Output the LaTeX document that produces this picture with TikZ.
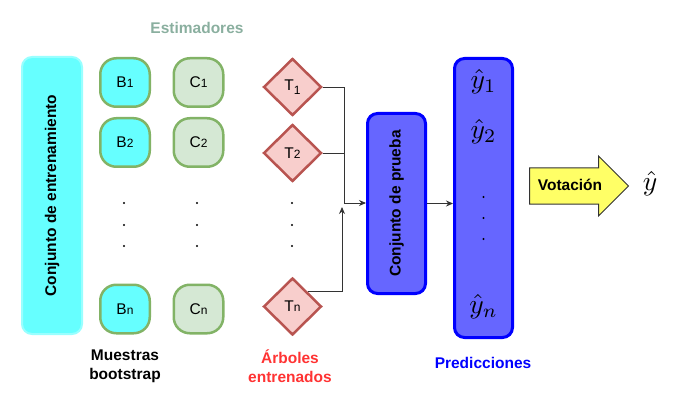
\documentclass[tikz,border=0pt]{standalone}
\usepackage{amsmath}
\usepackage{graphicx}
\usepackage{fontspec}
\setmainfont{Liberation Sans}
\usepackage{tikz}
\usetikzlibrary{arrows.meta,positioning,shapes.geometric,shapes.arrows}
\usepackage{xcolor}
\definecolor{cyanfill}{HTML}{66FFFF}
\definecolor{cyanline}{HTML}{99FFFF}
\definecolor{greenline}{HTML}{82B366}
\definecolor{greenfill}{HTML}{D5E8D4}
\definecolor{redfill}{HTML}{F8CECC}
\definecolor{redline}{HTML}{B85450}
\definecolor{bluefill}{HTML}{6666FF}
\definecolor{blueline}{HTML}{0000FF}
\definecolor{yellowfill}{HTML}{FFFF66}
\definecolor{estgray}{HTML}{8AAF9F}
\definecolor{treered}{HTML}{FF3333}
\newcommand{\idx}[1]{{\fontsize{12}{12}\selectfont #1}}
\newcommand{\yhat}[1]{{\fontsize{10}{12}\selectfont\scalebox{2.75}{$\hat{y}#1$}}}

\begin{document}
\begin{tikzpicture}[x=1pt, y=-1pt,
  every node/.style={font=\fontsize{15.5}{19}\selectfont},
  >={Stealth[length=7pt,width=6pt]},
  sample/.style={draw=greenline, line width=2.5pt, rounded corners=16pt,
    minimum width=49.5pt, minimum height=48.5pt, inner sep=0pt},
  tree/.style={diamond, aspect=1, draw=redline, fill=redfill, line width=2.5pt,
    minimum width=58pt, minimum height=57pt, inner sep=0pt},
  bigbox/.style={draw=blueline, fill=bluefill, line width=3pt, rounded corners=10pt,
    minimum width=58pt, inner sep=0pt},
  link/.style={draw=black!80, line width=0.9pt}]
  \useasboundingbox (0,0) rectangle (691,409);

  % Training set
  \node[draw=cyanline, fill=cyanfill, line width=2pt, rounded corners=10pt,
    minimum width=60pt, minimum height=277pt, inner sep=0pt, font=\fontsize{15.5}{19}\selectfont\bfseries]
    (train) at (52,195.5) {\rotatebox{90}{Conjunto de entrenamiento}};

  % Estimators
  \node[estgray, font=\fontsize{15.5}{19}\selectfont\bfseries] (est) at (197,28) {Estimadores};
  \node[sample, fill=cyanfill] (B1) at (125,82.5) {B\idx{1}};
  \node[sample, fill=cyanfill] (B2) at (125,142.5) {B\idx{2}};
  \node[sample, fill=cyanfill] (Bn) at (125,309) {B\idx{n}};
  \node[sample, fill=greenfill] (C1) at (198.5,82.5) {C\idx{1}};
  \node[sample, fill=greenfill] (C2) at (198.5,142.5) {C\idx{2}};
  \node[sample, fill=greenfill] (Cn) at (198.5,309) {C\idx{n}};

  % Trained trees
  \node[tree] (T1) at (292.5,87) {T\raisebox{-4pt}{\idx{1}}};
  \node[tree] (T2) at (292.5,153) {T\idx{2}};
  \node[tree] (Tn) at (292.5,306.5) {T\idx{n}};

  % Dots
  \foreach \x in {124,197,292}
    \foreach \y in {203,225,246}
      \fill (\x,\y) circle (1.1pt);

  % Labels
  \node[font=\fontsize{15.5}{19}\selectfont\bfseries, align=center] (boot) at (125,366) {Muestras\\bootstrap};
  \node[treered, font=\fontsize{15.5}{19}\selectfont\bfseries, align=center] (arb) at (290,366) {Árboles\\entrenados};

  % Test set and predictions
  \node[bigbox, minimum height=180pt, font=\fontsize{15.5}{19}\selectfont\bfseries]
    (prueba) at (396.5,203.5) {\rotatebox{90}{Conjunto de prueba}};
  \node[bigbox, minimum height=279pt] (pred) at (483.5,198) {};
  \node (y1) at (483.5,82) {\yhat{_1}};
  \node (y2) at (483.5,132) {\yhat{_2}};
  \node (yn) at (483.5,307) {\yhat{_n}};
  \foreach \y in {197,218,239}
    \fill (483.5,\y) circle (1.1pt);
  \node[blueline, font=\fontsize{15.5}{19}\selectfont\bfseries] (predlab) at (483,363) {Predicciones};

  % Voting
  \node[single arrow, draw=black!80, fill=yellowfill, line width=1pt,
    single arrow head extend=12pt, single arrow head indent=0pt,
    minimum height=99pt, text height=11pt, text depth=3pt, inner ysep=10.5pt, inner xsep=6pt,
    font=\fontsize{15.5}{19}\selectfont\bfseries] (vote) at (570,186) {Votación};
  \node (yfin) at (650,184) {\yhat{}};

  % Connectors
  \coordinate (join) at (344,203);
  \coordinate (up) at (342,207);
  \draw[link] (T1.east) -| (join);
  \draw[link] (T2.east) -| (join);
  \draw[link,->] (join) -- (join -| prueba.west);
  \draw[link,->] (Tn.north east) -| (up);
  \draw[link,->] (prueba.east) -- (prueba.east -| pred.west);
\end{tikzpicture}
\end{document}
